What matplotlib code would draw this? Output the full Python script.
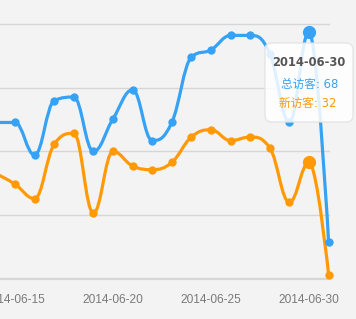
import matplotlib
matplotlib.use("Agg")
import matplotlib.pyplot as plt
import numpy as np
from matplotlib.path import Path
from matplotlib.patches import PathPatch, FancyBboxPatch

# ---- data ----
dates = ["2014-06-14", "2014-06-15", "2014-06-16", "2014-06-17", "2014-06-18",
         "2014-06-19", "2014-06-20", "2014-06-21", "2014-06-22", "2014-06-23",
         "2014-06-24", "2014-06-25", "2014-06-26", "2014-06-27", "2014-06-28",
         "2014-06-29", "2014-06-30", "2014-07-01"]
total_visitors = [43, 43, 34, 49, 50, 35, 44, 52, 38, 43, 61, 63, 67, 67, 62, 43, 68, 10]
new_visitors = [29, 26, 22, 37, 40, 18, 35, 31, 30, 32, 39, 41, 38, 39, 36, 21, 32, 1]
tick_labels = ["2014-06-15", "2014-06-20", "2014-06-25", "2014-06-30"]
y_ticks = [0, 17.5, 35, 52.5, 70]
hover_index = 16
series_names = ["总访客", "新访客"]

BLUE = "#36a2f5"
ORANGE = "#ff9a06"
BG = "#f3f3f3"

W, H = 356, 319
fig = plt.figure(figsize=(W / 100, H / 100), dpi=100, facecolor=BG)

# plot area in pixels
px_right = 329.0
px_top, px_bottom = 24.5, 278.5
t_vals = np.arange(len(dates)) - hover_index  # day offset from hovered date
px_per_day = 19.6
x_hover_px = 309.0
xmin = (0 - x_hover_px) / px_per_day
xmax = (px_right - x_hover_px) / px_per_day

ax = fig.add_axes([0, 1 - px_bottom / H, px_right / W, (px_bottom - px_top) / H])
ax.set_facecolor(BG)
ax.set_xlim(xmin, xmax)
ax.set_ylim(0, 70)
for s in ax.spines.values():
    s.set_visible(False)
ax.set_yticks([])
for yv in y_ticks:
    ax.axhline(yv, color="#d6d6d6", lw=1.0 if yv > 0 else 1.6, zorder=1, clip_on=False)

tick_pos = [t_vals[dates.index(lbl)] for lbl in tick_labels]
ax.set_xticks(tick_pos)
ax.set_xticklabels(tick_labels, fontsize=8.6, color="#7a7a7a", family="Liberation Sans")
ax.tick_params(axis="x", length=0, pad=11)


def spline_path(xs, ys):
    sm = 1.5
    den = sm + 1
    n = len(xs)
    rc = [(xs[i], ys[i]) for i in range(n)]
    lc = [(xs[i], ys[i]) for i in range(n)]
    for i in range(1, n - 1):
        px, py = xs[i], ys[i]
        lx, ly = xs[i - 1], ys[i - 1]
        nx, ny = xs[i + 1], ys[i + 1]
        lcx = (sm * px + lx) / den
        lcy = (sm * py + ly) / den
        rcx = (sm * px + nx) / den
        rcy = (sm * py + ny) / den
        corr = 0
        if rcx != lcx:
            corr = (rcy - lcy) * (rcx - px) / (rcx - lcx) + py - rcy
        lcy += corr
        rcy += corr
        if lcy > ly and lcy > py:
            lcy = max(ly, py); rcy = 2 * py - lcy
        elif lcy < ly and lcy < py:
            lcy = min(ly, py); rcy = 2 * py - lcy
        if rcy > ny and rcy > py:
            rcy = max(ny, py); lcy = 2 * py - rcy
        elif rcy < ny and rcy < py:
            rcy = min(ny, py); lcy = 2 * py - rcy
        lc[i] = (lcx, lcy)
        rc[i] = (rcx, rcy)
    verts = [(xs[0], ys[0])]
    codes = [Path.MOVETO]
    for i in range(1, n):
        verts += [rc[i - 1], lc[i], (xs[i], ys[i])]
        codes += [Path.CURVE4] * 3
    return Path(verts, codes)


for vals, col in [(total_visitors, BLUE), (new_visitors, ORANGE)]:
    p = spline_path(list(map(float, t_vals)), list(map(float, vals)))
    ax.add_patch(PathPatch(p, facecolor="none", edgecolor=col, lw=2.3,
                           capstyle="round", joinstyle="round", zorder=3, clip_on=False))
    ax.plot(t_vals, vals, "o", color=col, ms=6, mew=0, zorder=4, clip_on=False)
    ax.plot([t_vals[hover_index]], [vals[hover_index]], "o", color=col, ms=9.5,
            mew=0, zorder=4, clip_on=False)

# tooltip
bx0, bx1, by0, by1 = 265, 353, 43, 122
box = FancyBboxPatch((bx0 / W, 1 - by1 / H), (bx1 - bx0) / W, (by1 - by0) / H,
                     boxstyle="round,pad=0,rounding_size=0.02",
                     transform=fig.transFigure, facecolor="white", alpha=0.85,
                     edgecolor="#e2e2e2", lw=1, zorder=10)
fig.patches.append(box)
cx = 309 / W
fig.text(cx, 1 - 62.5 / H, dates[hover_index], ha="center", va="center",
         fontsize=8.3, fontweight="bold", color="#555555",
         family=["DejaVu Sans", "Noto Sans CJK SC"], zorder=11)
fig.text(cx + 0.5 / W, 1 - 84.5 / H, f"{series_names[0]}: {total_visitors[hover_index]}",
         ha="center", va="center", fontsize=8.4, color=BLUE,
         family=["DejaVu Sans", "Noto Sans CJK SC"], zorder=11)
fig.text(cx - 1.5 / W, 1 - 103.5 / H, f"{series_names[1]}: {new_visitors[hover_index]}",
         ha="center", va="center", fontsize=8.4, color=ORANGE,
         family=["DejaVu Sans", "Noto Sans CJK SC"], zorder=11)

fig.savefig("out.png", dpi=100, facecolor=BG)
